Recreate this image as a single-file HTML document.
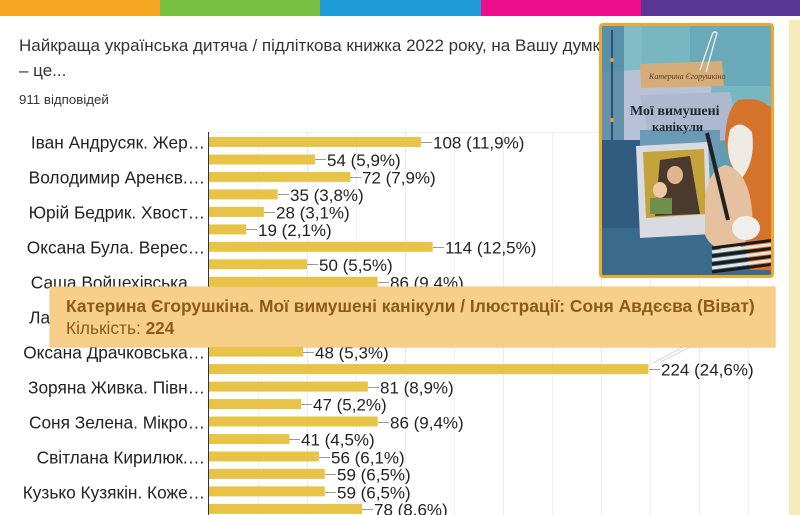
<!DOCTYPE html>
<html>
<head>
<meta charset="utf-8">
<style>
html,body{margin:0;padding:0;background:#fff;}
body{width:800px;height:515px;overflow:hidden;position:relative;font-family:"Liberation Sans",Arial,sans-serif;}
svg{position:absolute;left:0;top:0;}
</style>
</head>
<body>
<svg width="800" height="515" viewBox="0 0 800 515" xmlns="http://www.w3.org/2000/svg" font-family="Liberation Sans, Arial, sans-serif">
  <!-- top color bar -->
  <rect x="0" y="0" width="160" height="16" fill="#f5a623"/>
  <rect x="160" y="0" width="160" height="16" fill="#77c043"/>
  <rect x="320" y="0" width="161" height="16" fill="#1f9bd7"/>
  <rect x="481" y="0" width="160" height="16" fill="#eb0d8c"/>
  <rect x="641" y="0" width="159" height="16" fill="#5a3695"/>
  <!-- right strip -->
  <rect x="789" y="20" width="11" height="495" fill="#f5eab9"/>

  <!-- title -->
  <text x="19" y="51" font-size="17" fill="#333">Найкраща українська дитяча / підліткова книжка 2022 року, на Вашу думку</text>
  <text x="19" y="76" font-size="17" fill="#333">– це...</text>
  <text x="19" y="104" font-size="13.3" fill="#333">911 відповідей</text>

  <!-- grid -->
  <g stroke="#ececec" stroke-width="1">
    <line x1="208" y1="132.5" x2="760" y2="132.5" stroke="#f0f0f0"/>
    <line x1="258.5" y1="132" x2="258.5" y2="515" stroke="#f3f3f3"/>
    <line x1="307.5" y1="132" x2="307.5" y2="515"/>
    <line x1="356.5" y1="132" x2="356.5" y2="515" stroke="#f3f3f3"/>
    <line x1="405.5" y1="132" x2="405.5" y2="515"/>
    <line x1="454.5" y1="132" x2="454.5" y2="515" stroke="#f3f3f3"/>
    <line x1="503.5" y1="132" x2="503.5" y2="515"/>
    <line x1="552.5" y1="132" x2="552.5" y2="515" stroke="#f0f0f0"/>
    <line x1="601.5" y1="132" x2="601.5" y2="515"/>
    <line x1="650.5" y1="132" x2="650.5" y2="515" stroke="#f0f0f0"/>
    <line x1="699.5" y1="132" x2="699.5" y2="515"/>
    <line x1="748.5" y1="132" x2="748.5" y2="515" stroke="#f0f0f0"/>
  </g>

  <!-- bars -->
  <g fill="#e7c447">
    <rect x="209" y="137" width="211.9" height="10"/>
    <rect x="209" y="154.5" width="105.9" height="10"/>
    <rect x="209" y="171.9" width="141.3" height="10"/>
    <rect x="209" y="189.4" width="68.7" height="10"/>
    <rect x="209" y="206.9" width="54.9" height="10"/>
    <rect x="209" y="224.4" width="37.3" height="10"/>
    <rect x="209" y="241.8" width="223.7" height="10"/>
    <rect x="209" y="259.3" width="98.1" height="10"/>
    <rect x="209" y="276.8" width="168.7" height="10"/>
    <rect x="209" y="294.2" width="78.5" height="10"/>
    <rect x="209" y="311.7" width="117.7" height="10"/>
    <rect x="209" y="329.2" width="88.3" height="10"/>
    <rect x="209" y="346.6" width="94.2" height="10"/>
    <rect x="209" y="364.1" width="439.5" height="10"/>
    <rect x="209" y="381.6" width="158.9" height="10"/>
    <rect x="209" y="399.1" width="92.2" height="10"/>
    <rect x="209" y="416.5" width="168.7" height="10"/>
    <rect x="209" y="434.0" width="80.4" height="10"/>
    <rect x="209" y="451.5" width="109.9" height="10"/>
    <rect x="209" y="468.9" width="115.8" height="10"/>
    <rect x="209" y="486.4" width="115.8" height="10"/>
    <rect x="209" y="503.9" width="153.0" height="10"/>
  </g>

  <!-- connectors -->
  <g stroke="#9a9a9a" stroke-width="1">
    <line x1="421" y1="142.5" x2="432" y2="142.5"/>
    <line x1="315" y1="159.5" x2="326" y2="159.5"/>
    <line x1="350" y1="177.5" x2="361" y2="177.5"/>
    <line x1="278" y1="194.5" x2="289" y2="194.5"/>
    <line x1="264" y1="212.5" x2="275" y2="212.5"/>
    <line x1="246" y1="229.5" x2="257" y2="229.5"/>
    <line x1="433" y1="247.5" x2="444" y2="247.5"/>
    <line x1="307" y1="264.5" x2="318" y2="264.5"/>
    <line x1="378" y1="282.5" x2="389" y2="282.5"/>
    <line x1="303" y1="352.5" x2="314" y2="352.5"/>
    <line x1="649" y1="369.5" x2="660" y2="369.5"/>
    <line x1="368" y1="387.5" x2="379" y2="387.5"/>
    <line x1="301" y1="404.5" x2="312" y2="404.5"/>
    <line x1="378" y1="422.5" x2="389" y2="422.5"/>
    <line x1="289" y1="439.5" x2="300" y2="439.5"/>
    <line x1="319" y1="457.5" x2="330" y2="457.5"/>
    <line x1="325" y1="474.5" x2="336" y2="474.5"/>
    <line x1="325" y1="492.5" x2="336" y2="492.5"/>
    <line x1="362" y1="509.5" x2="373" y2="509.5"/>
  </g>

  <!-- value labels -->
  <g font-size="17" fill="#222">
    <text x="433" y="148.3">108 (11,9%)</text>
    <text x="327" y="165.8">54 (5,9%)</text>
    <text x="362" y="183.3">72 (7,9%)</text>
    <text x="290" y="200.8">35 (3,8%)</text>
    <text x="276" y="218.3">28 (3,1%)</text>
    <text x="258" y="235.8">19 (2,1%)</text>
    <text x="445" y="253.3">114 (12,5%)</text>
    <text x="319" y="270.8">50 (5,5%)</text>
    <text x="390" y="288.3">86 (9,4%)</text>
    <text x="315" y="358.3">48 (5,3%)</text>
    <text x="661" y="375.3">224 (24,6%)</text>
    <text x="380" y="393.3">81 (8,9%)</text>
    <text x="313" y="410.3">47 (5,2%)</text>
    <text x="390" y="428.3">86 (9,4%)</text>
    <text x="301" y="445.3">41 (4,5%)</text>
    <text x="331" y="463.3">56 (6,1%)</text>
    <text x="337" y="480.3">59 (6,5%)</text>
    <text x="337" y="498.3">59 (6,5%)</text>
    <text x="374" y="515.3">78 (8,6%)</text>
  </g>

  <!-- axis -->
  <line x1="208.5" y1="132" x2="208.5" y2="515" stroke="#333" stroke-width="1"/>

  <!-- category labels -->
  <g font-size="17.3" fill="#222" text-anchor="end">
    <text x="205" y="148.3">Іван Андрусяк. Жер…</text>
    <text x="205" y="183.3">Володимир Аренєв.…</text>
    <text x="205" y="218.3">Юрій Бедрик. Хвост…</text>
    <text x="205" y="253.3">Оксана Була. Верес…</text>
    <text x="205" y="288.3">Саша Войцехівська…</text>
    <text x="205" y="323.3">Лариса Денисенко. …</text>
    <text x="205" y="358.3">Оксана Драчковська…</text>
    <text x="205" y="393.3">Зоряна Живка. Півн…</text>
    <text x="205" y="428.3">Соня Зелена. Мікро…</text>
    <text x="205" y="463.3">Світлана Кирилюк.…</text>
    <text x="205" y="498.3">Кузько Кузякін. Коже…</text>
  </g>

  <!-- book cover -->
  <defs>
    <clipPath id="bk"><rect x="602" y="26" width="169" height="249" rx="2"/></clipPath>
  </defs>
  <rect x="599" y="23" width="175" height="255" rx="4" fill="#f0a732"/>
  <g clip-path="url(#bk)">
    <rect x="602" y="26" width="169" height="249" fill="#5f9db0"/>
    <rect x="602" y="26" width="169" height="80" fill="#78b6c1"/>
    <rect x="690" y="26" width="81" height="60" fill="#6aa9b8"/>
    <rect x="602" y="26" width="40" height="45" fill="#82bcc6"/>
    <polygon points="602,72 700,66 712,84 705,140 602,145" fill="#b9c1d7"/>
    <polygon points="640,95 730,92 740,140 650,142" fill="#aeb9cf"/>
    <rect x="602" y="26" width="22" height="249" fill="#4f86a3" opacity="0.8"/>
    <line x1="612" y1="30" x2="612" y2="270" stroke="#2b4f6e" stroke-width="2"/>
    <g fill="#e4a23a">
      <circle cx="612" cy="60" r="2"/><circle cx="612" cy="120" r="2"/><circle cx="612" cy="200" r="2"/><circle cx="612" cy="245" r="2"/>
    </g>
    <rect x="602" y="140" width="45" height="135" fill="#2f5c7f"/>
    <rect x="602" y="228" width="169" height="47" fill="#3a6b8c"/>
    <rect x="640" y="130" width="80" height="30" fill="#6b9ab4"/>
    <polygon points="640,64 722,61 724,86 641,88" fill="#d4ad78"/>
    <text x="649" y="79" font-size="8" font-style="italic" fill="#5a3a22" font-family="Liberation Serif, serif">Катерина Єгорушкіна</text>
    <path d="M700,70 L712,35 Q714,30 717,33 L706,72" fill="none" stroke="#dfe7ea" stroke-width="1.5"/>
    <text x="630" y="115" font-size="14" font-weight="bold" fill="#1e2730" font-family="Liberation Serif, serif">Мої вимушені</text>
    <text x="652" y="131" font-size="12.5" font-weight="bold" fill="#1e2730" font-family="Liberation Serif, serif">канікули</text>
    <polygon points="636,146 708,142 712,234 640,238" fill="#d9dbe0"/>
    <polygon points="643,152 704,149 706,214 646,218" fill="#c5a23a"/>
    <polygon points="660,160 690,156 700,214 655,216" fill="#4a3a2e"/>
    <ellipse cx="675" cy="175" rx="8" ry="9" fill="#e2b58f"/>
    <ellipse cx="660" cy="190" rx="7" ry="8" fill="#f0c9a6"/>
    <rect x="650" y="198" width="22" height="16" fill="#6f8f4c"/>
    <path d="M738,100 Q771,95 775,120 L775,270 L750,270 Q740,230 745,200 Q730,170 725,140 Q726,110 738,100 Z" fill="#d4742c"/>
    <path d="M730,130 Q740,118 752,132 Q756,160 742,178 Q726,165 728,140 Z" fill="#eeeae4"/>
    <path d="M705,200 Q708,170 725,165 Q748,170 752,210 Q755,240 735,250 Q712,252 705,235 Z" fill="#e6c1a0"/>
    <line x1="707" y1="133" x2="728" y2="220" stroke="#222" stroke-width="4"/>
    <ellipse cx="746" cy="228" rx="14" ry="12" fill="#efefec"/>
    <g stroke="#1a1a1a" stroke-width="3">
      <line x1="712" y1="248" x2="775" y2="240"/>
      <line x1="712" y1="256" x2="775" y2="248"/>
      <line x1="712" y1="264" x2="775" y2="256"/>
      <line x1="712" y1="272" x2="775" y2="264"/>
    </g>
    <g stroke="#eae6dc" stroke-width="3">
      <line x1="712" y1="252" x2="775" y2="244"/>
      <line x1="712" y1="260" x2="775" y2="252"/>
      <line x1="712" y1="268" x2="775" y2="260"/>
    </g>
  </g>

  <!-- tooltip pointer -->
  <path d="M683,347 L653,363 M690,347 L660,362" stroke="#d8d8d8" stroke-width="1" fill="none"/>
  <!-- tooltip -->
  <rect x="51" y="288" width="725" height="60" fill="#000" opacity="0.06"/>
  <rect x="50" y="287" width="725" height="60" fill="#f8cf89" stroke="#f3c77d" stroke-width="1"/>
  <text x="66" y="312" font-size="17.4" font-weight="bold" fill="#8d5b17">Катерина Єгорушкіна. Мої вимушені канікули / Ілюстрації: Соня Авдєєва (Віват)</text>
  <text x="66" y="334" font-size="17.3" fill="#8d5b17">Кількість: <tspan font-weight="bold">224</tspan></text>
</svg>
</body>
</html>
